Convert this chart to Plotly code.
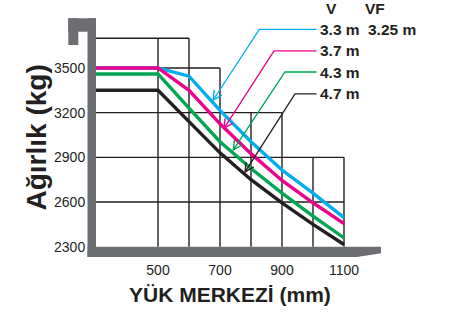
import numpy as np
import plotly.graph_objects as go

# ---------------- data ----------------
load_center = [300, 500, 600, 700, 800, 900, 1000, 1100]   # mm
cap_33 = [3500, 3500, 3445, 3215, 3005, 2815, 2660, 2495]  # kg, V 3.3 m / VF 3.25 m
cap_37 = [3500, 3500, 3350, 3125, 2925, 2745, 2595, 2455]  # kg, 3.7 m
cap_43 = [3460, 3460, 3230, 3005, 2825, 2660, 2505, 2360]  # kg, 4.3 m
cap_47 = [3350, 3350, 3140, 2930, 2750, 2595, 2450, 2315]  # kg, 4.7 m
series_labels = ["3.3 m", "3.7 m", "4.3 m", "4.7 m"]
header_labels = ["V", "VF"]
vf_label = "3.25 m"
x_ticks = [500, 700, 900, 1100]
y_ticks = [2300, 2600, 2900, 3200, 3500]
# stepped grid
x_grid = [500, 600, 700, 800, 900, 1000, 1100]
x_grid_top = [3700, 3700, 3500, 3200, 3200, 2900, 2900]
y_grid = [3700, 3500, 3200, 2900, 2600]
y_grid_end = [600, 700, 900, 1100, 1100]
grid_left, grid_floor = 300, 2300
# callout arrow tips (data coords)
tip_x = [678, 713, 743, 781]
tip_y = [3285, 3095, 2950, 2802]

# ---------------- layout constants ----------------
W, H = 449, 318
L, R, T, B = 90, 99, 30, 68
XR = [280.6, 1119.4]
YR = [2278, 3755]
colors = ["#00AEEF", "#EC008C", "#00A651", "#231F20"]
ink = "#231F20"
gray = "#6D6E71"
FONT = "Liberation Sans"

pw, ph = W - L - R, H - T - B


def px_x(v):
    return L + (v - XR[0]) / (XR[1] - XR[0]) * pw


def px_y(v):
    return T + (YR[1] - v) / (YR[1] - YR[0]) * ph


def pap_x(px):
    return (px - L) / pw


def pap_y(py):
    return 1 - (py - T) / ph


def to_path(pts, close=False):
    s = "M " + " L ".join(f"{pap_x(a):.5f},{pap_y(b):.5f}" for a, b in pts)
    return s + (" Z" if close else "")


fig = go.Figure()
for ys, c in zip([cap_33, cap_37, cap_43, cap_47], colors):
    fig.add_trace(go.Scatter(x=load_center, y=ys, mode="lines",
                             line=dict(color=c, width=3.4), hoverinfo="skip",
                             cliponaxis=False))

shapes = []
# stepped grid
for xv, top in zip(x_grid, x_grid_top):
    shapes.append(dict(type="line", xref="x", yref="y", x0=xv, x1=xv, y0=grid_floor, y1=top,
                       line=dict(color=ink, width=1.4), layer="below"))
for yv, end in zip(y_grid, y_grid_end):
    shapes.append(dict(type="line", xref="x", yref="y", x0=grid_left, x1=end, y0=yv, y1=yv,
                       line=dict(color=ink, width=1.4), layer="below"))


def rect(x0, y0, x1, y1):
    return dict(type="rect", xref="paper", yref="paper",
                x0=pap_x(x0), x1=pap_x(x1), y0=pap_y(y0), y1=pap_y(y1),
                fillcolor=gray, line=dict(width=0), layer="above")


# mast / fork decoration
shapes.append(rect(87.5, 18.3, 96, 257))
shapes.append(rect(68.3, 18.3, 96, 31.7))
shapes.append(rect(68.3, 18.3, 78.3, 45))
shapes.append(dict(type="path", xref="paper", yref="paper",
                   path=to_path([(87.5, 246.7), (381, 246.7), (381, 253.3), (357, 257), (87.5, 257)], True),
                   fillcolor=gray, line=dict(width=0), layer="above"))

annotations = []
# callouts
label_x = 318
row_y = [29.3, 50.8, 72.0, 93.8]
bend_x = [259.3, 274.0, 285.0, 295.0]
head_len, head_ang = 10.0, np.radians(27)
for i in range(4):
    tx, ty = px_x(tip_x[i]), px_y(tip_y[i])
    shapes.append(dict(type="path", xref="paper", yref="paper",
                       path=to_path([(label_x - 1.5, row_y[i]), (bend_x[i], row_y[i]), (tx, ty)]),
                       line=dict(color=colors[i], width=1.3), layer="above"))
    d = np.array([bend_x[i] - tx, row_y[i] - ty])
    d = d / np.linalg.norm(d)
    legs = []
    for s in (-1, 1):
        c, sn = np.cos(s * head_ang), np.sin(s * head_ang)
        r = np.array([c * d[0] - sn * d[1], sn * d[0] + c * d[1]]) * head_len
        legs.append((tx + r[0], ty + r[1]))
    shapes.append(dict(type="path", xref="paper", yref="paper",
                       path=to_path([legs[0], (tx, ty), legs[1]]),
                       line=dict(color=colors[i], width=1.4), layer="above"))
    annotations.append(dict(x=pap_x(label_x), y=pap_y(row_y[i]), xref="paper", yref="paper",
                            text=f"<b>{series_labels[i]}</b>", showarrow=False,
                            xanchor="left", yanchor="middle",
                            font=dict(family=FONT, size=15.5, color=ink)))

annotations.append(dict(x=pap_x(366), y=pap_y(29.3), xref="paper", yref="paper",
                        text=f"<b>{vf_label}</b>", showarrow=False, xanchor="left",
                        yanchor="middle", font=dict(family=FONT, size=15.5, color=ink)))
for lab, cx in zip(header_labels, [331.7, 375]):
    annotations.append(dict(x=pap_x(cx), y=pap_y(8.5), xref="paper", yref="paper",
                            text=f"<b>{lab}</b>", showarrow=False, xanchor="center",
                            yanchor="middle", font=dict(family=FONT, size=15.5, color=ink)))

# axis titles
annotations.append(dict(x=pap_x(36), y=pap_y(137.5), xref="paper", yref="paper",
                        text="<b>Ağırlık (kg)</b>", showarrow=False, textangle=-90,
                        xanchor="center", yanchor="middle",
                        font=dict(family=FONT, size=28, color=ink)))
annotations.append(dict(x=pap_x(229.5), y=pap_y(294.5), xref="paper", yref="paper",
                        text="<b>YÜK MERKEZİ (mm)</b>", showarrow=False,
                        xanchor="center", yanchor="middle",
                        font=dict(family=FONT, size=21, color=ink)))

fig.update_layout(
    width=W, height=H,
    margin=dict(l=L, r=R, t=T, b=B, pad=0),
    paper_bgcolor="white", plot_bgcolor="white",
    showlegend=False,
    shapes=shapes, annotations=annotations,
    xaxis=dict(range=XR, tickvals=x_ticks, ticktext=[str(v) for v in x_ticks],
               showgrid=False, zeroline=False, showline=False,
               ticks="outside", ticklen=7, tickcolor="rgba(0,0,0,0)",
               tickfont=dict(family=FONT, size=14, color=ink), fixedrange=True),
    yaxis=dict(range=YR, tickvals=y_ticks, ticktext=[str(v) for v in y_ticks],
               showgrid=False, zeroline=False, showline=False,
               ticks="outside", ticklen=1, tickcolor="rgba(0,0,0,0)",
               tickfont=dict(family=FONT, size=14, color=ink), fixedrange=True),
)

fig.write_html("out.html", config={"displayModeBar": False},
               post_script="document.body.style.margin='0px';document.body.style.padding='0px';")
